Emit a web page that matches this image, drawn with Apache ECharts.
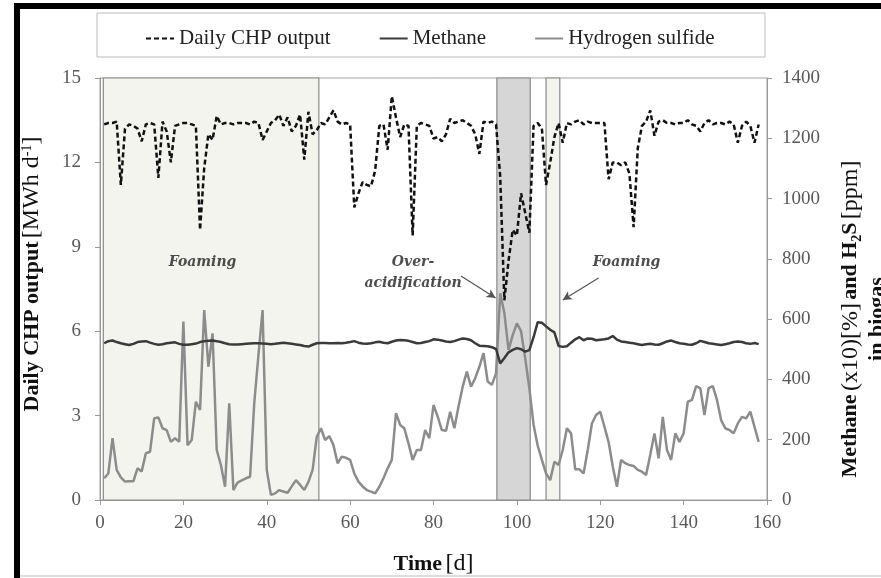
<!DOCTYPE html>
<html><head><meta charset="utf-8">
<script src="https://cdn.jsdelivr.net/npm/echarts@6/dist/echarts.min.js"></script>
<style>html,body{margin:0;padding:0;background:#fff}#c{width:881px;height:578px}</style>
</head><body><div id="c"></div>
<script>
// ---- data (one value per day, starting at day 1) ----
const firstDay = 1;
const chpOutput = [
13.35,13.4,13.4,13.45,11.2,13.2,13.35,13.3,13.2,12.75,
13.35,13.4,13.35,11.45,13.45,13.1,12.0,13.3,13.35,13.4,
13.4,13.35,13.3,9.6,11.8,13.0,12.8,13.65,13.35,13.4,
13.4,13.35,13.4,13.4,13.4,13.35,13.45,13.4,12.8,13.1,
13.4,13.5,13.7,13.3,13.6,13.1,13.3,13.7,12.1,13.8,
13.0,13.15,13.4,13.35,13.6,13.85,13.45,13.35,13.4,13.35,
10.4,10.9,11.3,11.2,11.15,11.7,13.3,13.35,12.45,14.35,
13.6,12.9,13.35,13.3,9.4,13.3,13.4,13.35,13.3,12.85,
12.9,12.75,13.0,13.55,13.4,13.45,13.5,13.4,13.3,13.0,
12.3,13.45,13.4,13.45,13.35,11.5,7.1,8.5,9.6,9.4,
10.9,10.2,9.5,13.3,13.4,13.2,11.2,12.0,12.9,13.4,
12.7,13.4,13.35,13.45,13.5,13.35,13.45,13.4,13.4,13.4,
13.4,11.4,12.0,12.0,11.9,12.0,11.6,9.7,12.5,13.3,
13.45,13.85,12.95,13.45,13.5,13.4,13.4,13.35,13.4,13.4,
13.5,13.35,13.3,13.1,13.4,13.5,13.35,13.4,13.4,13.35,
13.45,13.35,12.7,13.3,13.45,13.3,12.7,13.35];
const methane = [
520,527,529,524,520,517,514,518,524,526,
527,522,518,515,517,520,522,523,518,515,
515,517,519,524,527,528,529,527,524,520,
517,516,516,517,518,519,520,520,519,518,
517,518,520,522,520,518,516,514,511,509,
515,520,521,521,520,520,521,520,522,524,
527,522,519,518,520,523,525,522,520,525,
529,531,530,528,524,520,521,524,527,533,
532,529,526,524,527,532,536,534,530,520,
512,511,510,507,501,453,471,490,498,504,
500,492,497,540,590,588,576,565,556,511,
508,510,522,533,540,530,536,535,530,532,
533,536,544,532,526,524,522,520,517,514,
517,518,516,515,520,526,529,524,520,518,
516,515,520,528,524,520,518,516,514,517,
520,524,526,524,520,518,521,517];
const h2s = [
72,88,205,100,75,61,62,62,105,95,
155,160,271,274,238,232,193,205,193,592,
182,199,326,299,630,442,553,166,116,44,
321,33,58,65,72,77,321,480,630,100,
17,22,33,28,24,45,66,50,33,60,
100,210,238,199,212,182,122,144,140,133,
88,61,45,33,28,22,44,72,105,133,
288,249,238,188,133,166,166,232,205,315,
277,232,230,293,238,310,376,426,376,404,
442,487,393,382,420,686,620,498,547,586,
560,470,370,250,180,133,88,66,127,116,
166,238,221,102,102,88,166,254,282,293,
243,193,111,44,133,122,116,113,100,94,
83,150,221,138,276,166,133,221,193,221,
326,332,378,371,282,371,378,332,265,238,
232,221,254,276,271,293,243,193];

const seriesNames = ['Daily CHP output','Methane','Hydrogen sulfide'];
// shaded periods [start day, end day, kind]
const periods = [[0.8,52.5,'foam'],[95.2,103.2,'acid'],[107,110.3,'foam']];
// annotation texts [day, left-axis value]
const noteTexts = ['Foaming','Over-','acidification','Foaming'];
const noteDays  = [24.6, 75.1, 75.1, 126.3];
const noteVals  = [8.43, 8.46, 7.71, 8.43];
// arrows [from day, from value, to day, to value]
const arrows = [[86.6,7.96,94.9,7.18],[119.6,7.89,111.0,7.11]];

// ---- build ----
const toPairs = arr => arr.map((v,i)=>[i+firstDay, v]);
const periodStyle = {
  foam: {color:'#f4f4ef', borderColor:'#8a8a8a', borderWidth:1.2},
  acid: {color:'#d6d6d6', borderColor:'#8a8a8a', borderWidth:1.2}
};
const serif = 'Liberation Serif';
const tickFont = {fontFamily:serif, fontSize:19, color:'#595959'};
const nameRich = {
  b:{fontFamily:serif, fontWeight:'bold', fontSize:22, color:'#111'},
  n:{fontFamily:serif, fontSize:24, color:'#111'},
  sup:{fontFamily:serif, fontSize:14, color:'#111', verticalAlign:'top', padding:[0,0,10,0]},
  sub:{fontFamily:serif, fontWeight:'bold', fontSize:14, color:'#111', verticalAlign:'bottom', padding:[8,0,0,0]}
};

const chart = echarts.init(document.getElementById('c'), null, {renderer:'canvas'});
chart.setOption({
  animation:false,
  backgroundColor:'#fff',
  graphic:[
    {type:'rect', shape:{x:14,y:3,width:867,height:6}, style:{fill:'#000'}},
    {type:'rect', shape:{x:14,y:3,width:6,height:575}, style:{fill:'#000'}},
    {type:'line', shape:{x1:20,y1:576,x2:881,y2:576}, style:{stroke:'#bbb',lineWidth:1}},
    {type:'rect', shape:{x:97,y:13,width:668,height:44}, style:{fill:'#fff',stroke:'#bdbdbd',lineWidth:1}, z:-1}
  ],
  legend:{
    data:seriesNames, left:140, top:23, itemWidth:28, itemHeight:14, itemGap:48,
    itemStyle:{opacity:0},
    textStyle:{fontFamily:serif, fontSize:21, color:'#222'}
  },
  grid:{left:100, right:114, top:78, bottom:78, outerBoundsMode:'none', containLabel:false,
        show:true, borderColor:'#a0a0a0', borderWidth:1, backgroundColor:'#fff'},
  xAxis:{
    type:'value', min:0, max:160, interval:20,
    name:'{b|Time} {n|[d]}', nameLocation:'middle', nameGap:52,
    nameTextStyle:{rich:nameRich},
    axisLine:{lineStyle:{color:'#999'}}, axisTick:{length:5, lineStyle:{color:'#999'}},
    axisLabel:Object.assign({margin:14}, tickFont), splitLine:{show:false}
  },
  yAxis:[
    {type:'value', min:0, max:15, interval:3, position:'left',
     name:'{b|Daily CHP output} {n|[MWh d}{sup|-1}{n|]}', nameLocation:'middle', nameRotate:90, nameGap:56,
     nameTextStyle:{rich:nameRich, padding:[0,0,0,30]},
     axisLine:{show:true, lineStyle:{color:'#999'}}, axisTick:{show:true, length:5, lineStyle:{color:'#999'}},
     axisLabel:Object.assign({margin:19}, tickFont), splitLine:{show:false}},
    {type:'value', min:0, max:1400, interval:200, position:'right',
     name:'{b|Methane} {n|(x10)[%]} {b|and H}{sub|2}{b|S} {n|[ppm]}\n{b|in biogas}', nameLocation:'middle', nameRotate:90, nameGap:70,
     nameTextStyle:{rich:nameRich, lineHeight:27, padding:[0,60,0,0]},
     axisLine:{show:true, lineStyle:{color:'#999'}}, axisTick:{show:true, length:5, lineStyle:{color:'#999'}},
     axisLabel:Object.assign({margin:15, formatter:v=>String(v)}, tickFont), splitLine:{show:false}}
  ],
  series:[
    {name:'Hydrogen sulfide', type:'line', yAxisIndex:1, data:toPairs(h2s), symbol:'none', z:2,
     lineStyle:{color:'#8c8c8c', width:2.5}, itemStyle:{color:'#8c8c8c'},
     markArea:{silent:true, z:1, data:periods.map(p=>[{xAxis:p[0], itemStyle:periodStyle[p[2]]},{xAxis:p[1]}])}},
    {name:'Methane', type:'line', yAxisIndex:1, data:toPairs(methane), symbol:'none', z:3,
     lineStyle:{color:'#3a3a3a', width:2.5}, itemStyle:{color:'#3a3a3a'}},
    {name:'Daily CHP output', type:'line', yAxisIndex:0, data:toPairs(chpOutput), symbol:'none', z:4,
     lineStyle:{color:'#111', width:2.5, type:[5,3]}, itemStyle:{color:'#111'}},
    {name:'notes', type:'scatter', yAxisIndex:0, z:5, silent:true, symbolSize:1,
     itemStyle:{color:'rgba(0,0,0,0)'},
     data:noteTexts.map((t,i)=>({name:t, value:[noteDays[i], noteVals[i]]})),
     label:{show:true, position:'inside', formatter:p=>p.name,
       fontFamily:'DejaVu Serif', fontStyle:'italic', fontWeight:'bold', fontSize:14, color:'#222'},
     markLine:{silent:true, symbol:['none','arrow'], symbolSize:[7,9], label:{show:false},
       lineStyle:{color:'#555', width:1.2, type:'solid'},
       data:arrows.map(a=>[{coord:[a[0],a[1]]},{coord:[a[2],a[3]]}])}}
  ]
});
</script></body></html>
